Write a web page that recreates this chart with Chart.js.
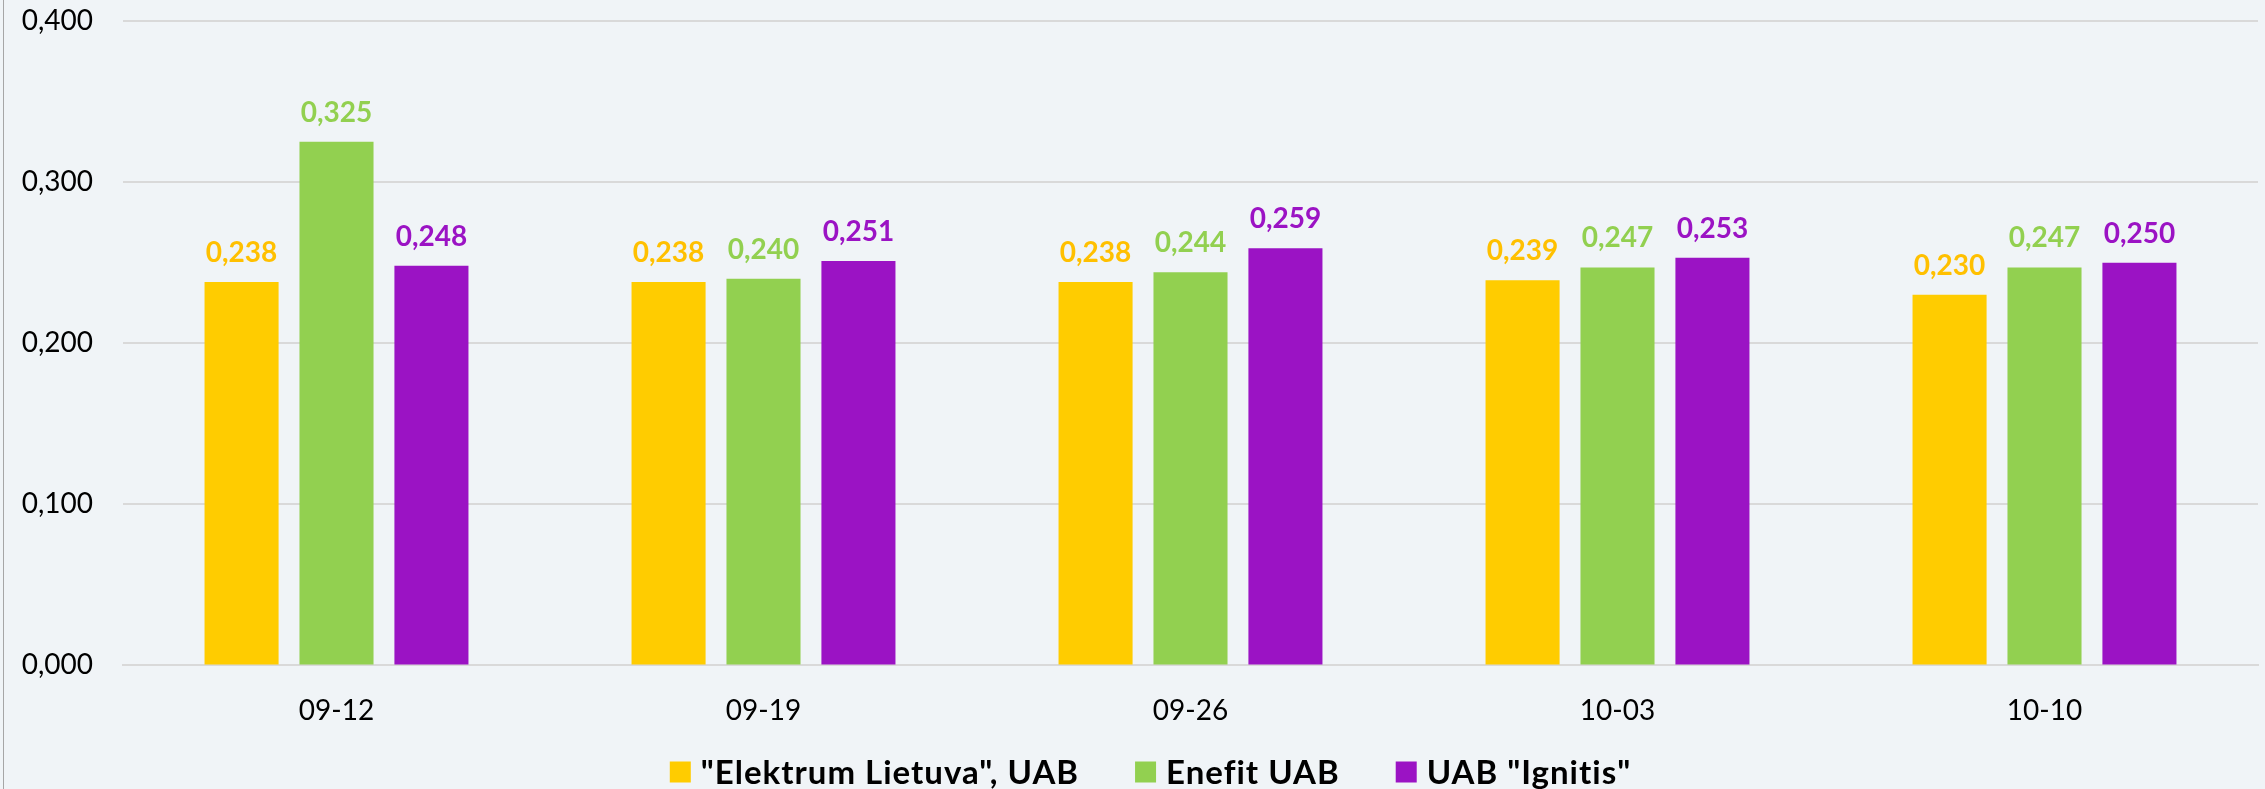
<!DOCTYPE html>
<html>
<head>
<meta charset="utf-8">
<title>Elektros kainos</title>
<script src="https://cdn.jsdelivr.net/npm/chart.js@4"></script>
<style>
  html, body { margin: 0; padding: 0; background: #f0f4f7; }
  #wrap { position: relative; width: 2265px; height: 789px; }
  #wrap::before { content: ''; position: absolute; left: 3px; top: 0; bottom: 0; width: 1px; background: #a6a6a6; }
</style>
</head>
<body>
<div id="wrap"><canvas id="chart" width="2265" height="789"></canvas></div>
<script>
// data
const weeks = ['09-12', '09-19', '09-26', '10-03', '10-10'];
const elektrum = [0.238, 0.238, 0.238, 0.239, 0.230];
const enefit = [0.325, 0.240, 0.244, 0.247, 0.247];
const ignitis = [0.248, 0.251, 0.259, 0.253, 0.250];
const yTicks = [0, 0.1, 0.2, 0.3, 0.4];

const seriesNames = ['"Elektrum Lietuva", UAB', 'Enefit UAB', 'UAB "Ignitis"'];
const barColors = ['#ffcc00', '#92d050', '#9b13c4'];
const labelColors = ['#ffc000', '#92d050', '#9b13c4'];

const fmt = (v) => v.toFixed(3).replace('.', ',');

// value labels above each bar
const valueLabels = {
  id: 'valueLabels',
  afterDatasetsDraw(chart) {
    const ctx = chart.ctx;
    ctx.save();
    ctx.font = 'bold 28px Lato';
    ctx.textAlign = 'center';
    ctx.textBaseline = 'alphabetic';
    chart.data.datasets.forEach((ds, i) => {
      const meta = chart.getDatasetMeta(i);
      ctx.fillStyle = labelColors[i];
      meta.data.forEach((bar, j) => {
        ctx.fillText(fmt(ds.data[j]), bar.x, bar.y - 20);
      });
    });
    ctx.restore();
  },
};

// legend row under the axis (square box, small gap, wide spacing between items)
const bottomLegend = {
  id: 'bottomLegend',
  afterDraw(chart) {
    const ctx = chart.ctx;
    const box = 21, gap = 10, spacing = 56;
    const y = chart.height - 17;
    ctx.save();
    ctx.font = 'bold 33px Lato';
    ctx.letterSpacing = '1px';
    ctx.textBaseline = 'middle';
    const widths = chart.data.datasets.map((ds) => ctx.measureText(ds.label).width);
    const total = widths.reduce((s, w) => s + box + gap + w, 0) + spacing * (widths.length - 1);
    let x = chart.width / 2 + 18 - total / 2;
    chart.data.datasets.forEach((ds, i) => {
      ctx.fillStyle = ds.backgroundColor;
      ctx.fillRect(x, y - box / 2, box, box);
      ctx.fillStyle = '#000';
      ctx.fillText(ds.label, x + box + gap, y + 1);
      x += box + gap + widths[i] + spacing;
    });
    ctx.restore();
  },
};

const datasets = [elektrum, enefit, ignitis].map((values, i) => ({
  label: seriesNames[i],
  data: values,
  backgroundColor: barColors[i],
  borderWidth: 0,
  categoryPercentage: 0.667,
  barPercentage: 0.78,
}));

new Chart(document.getElementById('chart'), {
  type: 'bar',
  data: { labels: weeks, datasets },
  options: {
    responsive: false,
    animation: false,
    layout: { padding: { top: 21, right: 7, bottom: 32, left: 0 } },
    plugins: {
      tooltip: { enabled: false },
      legend: { display: false },
    },
    scales: {
      x: {
        grid: { display: false, drawTicks: false },
        border: { color: '#d9d9d9', width: 2 },
        ticks: { font: { family: 'Lato', size: 28 }, color: '#000', padding: 29 },
      },
      y: {
        min: 0,
        max: 0.4,
        afterBuildTicks(scale) { scale.ticks = yTicks.map((v) => ({ value: v })); },
        grid: { color: '#d9d9d9', lineWidth: 2, drawTicks: false },
        border: { display: false },
        ticks: {
          font: { family: 'Lato', size: 28 },
          color: '#000',
          padding: 30,
          callback: (v) => fmt(v),
        },
        afterFit(scale) {
          scale.width = 123;
          scale.paddingTop = 0;
          scale.paddingBottom = 0;
        },
      },
    },
  },
  plugins: [valueLabels, bottomLegend],
});
</script>
</body>
</html>
